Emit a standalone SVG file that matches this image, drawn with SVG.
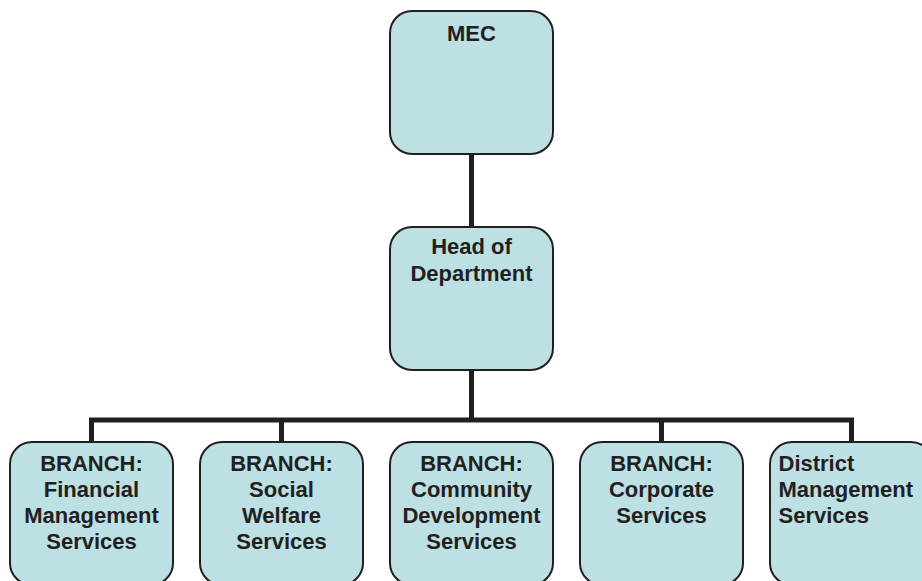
<svg xmlns="http://www.w3.org/2000/svg" width="922" height="581" viewBox="0 0 922 581">
<style>
.box{fill:#bce0e3;stroke:#231f20;stroke-width:2}
.t{font-family:"Liberation Sans",Arial,sans-serif;font-weight:bold;font-size:22px;fill:#231f20}
.c{text-anchor:middle}
.conn{stroke:#231f20;stroke-width:5;fill:none}
</style>
<rect width="922" height="581" fill="#ffffff"/>
<g id="connectors">
<line class="conn" x1="471.5" y1="154" x2="471.5" y2="227"/>
<line class="conn" x1="471.5" y1="369" x2="471.5" y2="420"/>
<polyline class="conn" points="91.5,443 91.5,420 851.5,420 851.5,443"/>
<line class="conn" x1="281.5" y1="420" x2="281.5" y2="443"/>
<line class="conn" x1="661.5" y1="420" x2="661.5" y2="443"/>
</g>
<g id="mec">
<rect class="box" x="390" y="11" width="163" height="143" rx="22"/>
<text class="t c" x="471.5" y="41">MEC</text>
</g>
<g id="hod">
<rect class="box" x="390" y="227" width="163" height="143" rx="22"/>
<text class="t c" x="471.5" y="254">Head of</text>
<text class="t c" x="471.5" y="281">Department</text>
</g>
<g id="financial">
<rect class="box" x="10" y="442" width="163" height="143" rx="22"/>
<text class="t c" x="91.5" y="471">BRANCH:</text>
<text class="t c" x="91.5" y="497">Financial</text>
<text class="t c" x="91.5" y="523">Management</text>
<text class="t c" x="91.5" y="549">Services</text>
</g>
<g id="social">
<rect class="box" x="200" y="442" width="163" height="143" rx="22"/>
<text class="t c" x="281.5" y="471">BRANCH:</text>
<text class="t c" x="281.5" y="497">Social</text>
<text class="t c" x="281.5" y="523">Welfare</text>
<text class="t c" x="281.5" y="549">Services</text>
</g>
<g id="community">
<rect class="box" x="390" y="442" width="163" height="143" rx="22"/>
<text class="t c" x="471.5" y="471">BRANCH:</text>
<text class="t c" x="471.5" y="497">Community</text>
<text class="t c" x="471.5" y="523">Development</text>
<text class="t c" x="471.5" y="549">Services</text>
</g>
<g id="corporate">
<rect class="box" x="580" y="442" width="163" height="143" rx="22"/>
<text class="t c" x="661.5" y="471">BRANCH:</text>
<text class="t c" x="661.5" y="497">Corporate</text>
<text class="t c" x="661.5" y="523">Services</text>
</g>
<g id="district">
<rect class="box" x="770" y="442" width="163" height="143" rx="22"/>
<text class="t" x="778.5" y="471">District</text>
<text class="t" x="778.5" y="497">Management</text>
<text class="t" x="778.5" y="523">Services</text>
</g>
</svg>
